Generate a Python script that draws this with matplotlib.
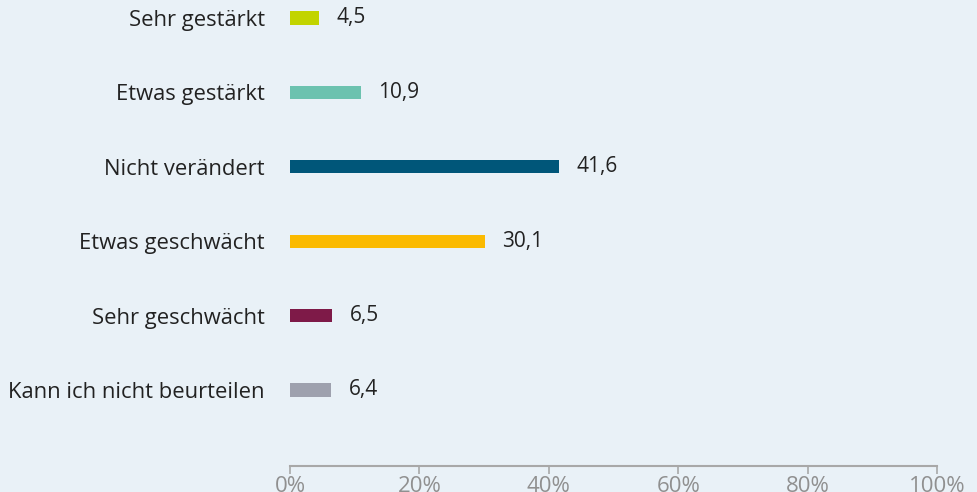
import matplotlib.pyplot as plt

categories = ['Sehr gestärkt', 'Etwas gestärkt', 'Nicht verändert',
              'Etwas geschwächt', 'Sehr geschwächt', 'Kann ich nicht beurteilen']
values = [4.5, 10.9, 41.6, 30.1, 6.5, 6.4]
labels = ['4,5', '10,9', '41,6', '30,1', '6,5', '6,4']
colors = ['#C2D400', '#6CC2AF', '#005679', '#FBBA00', '#7E1A48', '#9EA1AE']
xticks = [0, 20, 40, 60, 80, 100]

bg = '#E9F1F7'
plt.rcParams['font.family'] = ['Open Sans', 'DejaVu Sans']

fig = plt.figure(figsize=(9.78, 4.92), dpi=100, facecolor=bg)
ax = fig.add_axes([290/978, 26/492, 647/978, 466/492])
ax.set_facecolor(bg)

ypos = list(range(len(categories)))
ax.barh(ypos, values, height=0.18, color=colors)
for y, v, l in zip(ypos, values, labels):
    ax.text(v + 2.7, y, l, va='center', ha='left', fontsize=15, color='#222222')

ax.set_xlim(0, 100)
ax.set_ylim(5 + 76/74.4, -18/74.4)
ax.set_yticks(ypos)
ax.set_yticklabels(categories, fontsize=15.8, color='#222222')
ax.tick_params(axis='y', length=0, pad=18)
ax.set_xticks(xticks)
ax.set_xticklabels([f'{t}%' for t in xticks], fontsize=16, color='#909090')
ax.tick_params(axis='x', length=6, color='#A8A8A8', width=1.2, pad=1)

for s in ['top', 'right', 'left']:
    ax.spines[s].set_visible(False)
ax.spines['bottom'].set_color('#A8A8A8')
ax.spines['bottom'].set_linewidth(1.5)

fig.savefig('out.png', dpi=100, facecolor=bg)
